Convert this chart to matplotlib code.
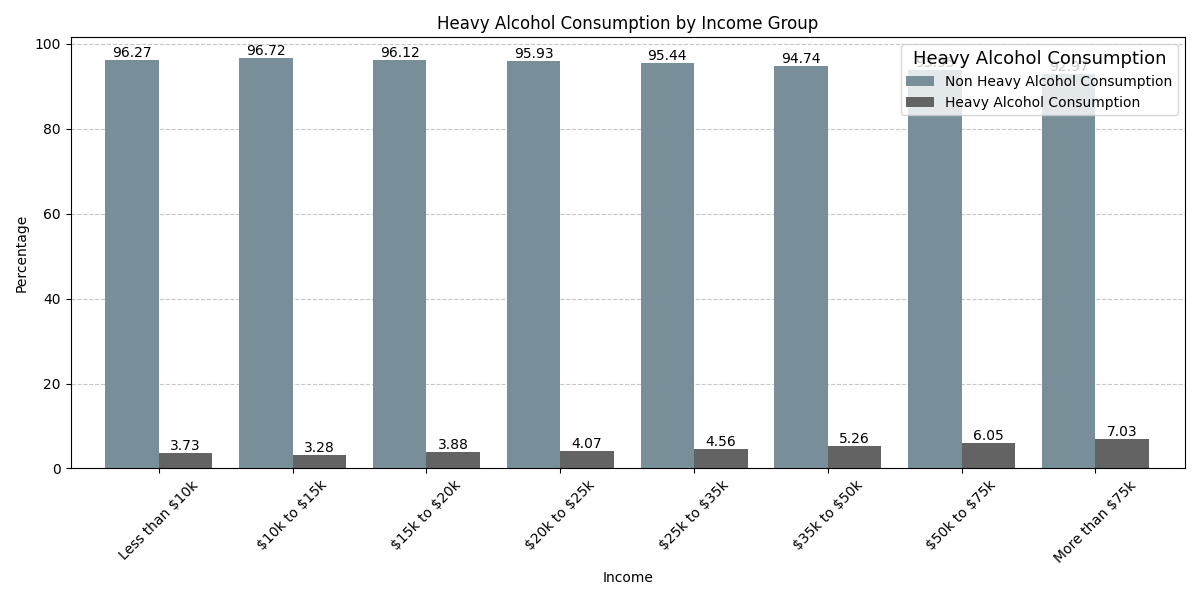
import numpy as np
import matplotlib.pyplot as plt

income = ["Less than \\$10k", "\\$10k to \\$15k", "\\$15k to \\$20k", "\\$20k to \\$25k",
          "\\$25k to \\$35k", "\\$35k to \\$50k", "\\$50k to \\$75k", "More than \\$75k"]
non_heavy = [96.27, 96.72, 96.12, 95.93, 95.44, 94.74, 93.95, 92.97]
heavy = [3.73, 3.28, 3.88, 4.07, 4.56, 5.26, 6.05, 7.03]

fig, ax = plt.subplots(figsize=(12, 6), dpi=100)
x = np.arange(len(income))
w = 0.4

b1 = ax.bar(x - w / 2, non_heavy, w, color="#788f9a", label="Non Heavy Alcohol Consumption")
b2 = ax.bar(x + w / 2, heavy, w, color="#636363", label="Heavy Alcohol Consumption")

for bars in (b1, b2):
    ax.bar_label(bars, fmt="%.2f", fontsize=10)

ax.set_xticks(x)
ax.set_xticklabels(income, rotation=45)
ax.set_xlim(-0.66, len(income) - 0.33)
ax.set_title("Heavy Alcohol Consumption by Income Group")
ax.set_xlabel("Income")
ax.set_ylabel("Percentage")
ax.grid(axis="y", linestyle="--", alpha=0.7)
ax.set_axisbelow(True)
ax.legend(title="Heavy Alcohol Consumption", title_fontsize=13, loc="upper right")

plt.tight_layout()
plt.savefig("out.png")
